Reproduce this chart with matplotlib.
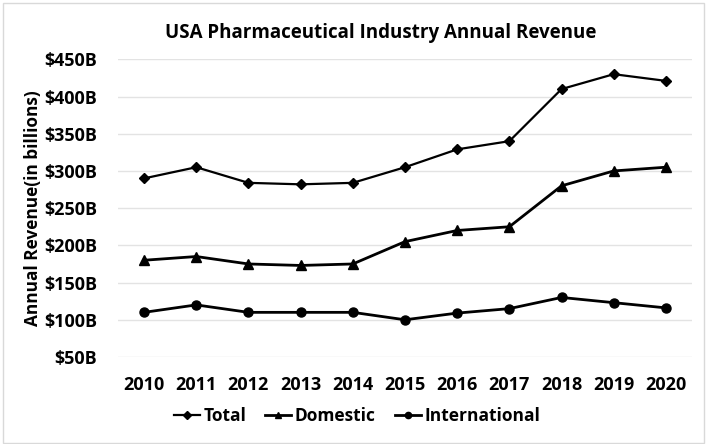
import matplotlib
matplotlib.use("Agg")
import matplotlib.pyplot as plt
from matplotlib.patches import Rectangle

years = ["2010", "2011", "2012", "2013", "2014", "2015", "2016", "2017", "2018", "2019", "2020"]
total = [290, 305, 284, 282, 284, 305, 329, 340, 410, 430, 421]
domestic = [180, 185, 175, 173, 175, 205, 220, 225, 280, 300, 305]
international = [110, 120, 110, 110, 110, 100, 109, 115, 130, 123, 116]
yticks = [50, 100, 150, 200, 250, 300, 350, 400, 450]
ytick_labels = ["$50B", "$100B", "$150B", "$200B", "$250B", "$300B", "$350B", "$400B", "$450B"]

plt.rcParams['font.family'] = ['Open Sans', 'DejaVu Sans']
plt.rcParams['font.weight'] = 'bold'

W, H = 706, 444
fig = plt.figure(figsize=(W / 100, H / 100), dpi=100)
ax = fig.add_axes([118 / W, 1 - 357 / H, (692 - 118) / W, (357 - 59.3) / H])

x = list(range(len(years)))
ax.plot(x, total, color='black', lw=1.6, marker='D', ms=5, label='Total')
ax.plot(x, domestic, color='black', lw=2.0, marker='^', ms=6.5, label='Domestic')
ax.plot(x, international, color='black', lw=2.0, marker='o', ms=6.5, label='International')

ax.set_xlim(-0.5, len(years) - 0.5)
ax.set_ylim(50, 450)
ax.set_yticks(yticks)
ax.set_yticklabels(ytick_labels)
ax.set_xticks(x)
ax.set_xticklabels(years)
ax.grid(axis='y', color='#e3e3e3', lw=1)
ax.set_axisbelow(True)
for s in ax.spines.values():
    s.set_visible(False)
ax.tick_params(length=0, labelsize=13)
for lab in ax.get_xticklabels() + ax.get_yticklabels():
    lab.set_fontweight('bold')
ax.tick_params(axis='x', pad=14)
ax.tick_params(axis='y', pad=15)

ax.set_ylabel('Annual Revenue(in billions)', fontsize=12.4, fontweight='bold')
ax.yaxis.set_label_coords((42 - 118) / (692 - 118), 0.5)

fig.text(381 / W, 1 - 33 / H, 'USA Pharmaceutical Industry Annual Revenue', ha='center', va='center',
         fontsize=13.5, fontweight='bold')

leg = fig.legend(loc='center', bbox_to_anchor=(357 / W, 1 - 416 / H), ncol=3, frameon=False,
                 prop={'weight': 'bold', 'size': 12.5}, handlelength=1.5, handletextpad=0.2, columnspacing=1.1)
for h in leg.legend_handles:
    h.set_markersize(4.5)

fig.patches.append(Rectangle((3 / W, 1 / H), (704 - 3) / W, (442 - 2) / H, transform=fig.transFigure,
                             fill=False, edgecolor='#d9d9d9', lw=1))

fig.savefig('out.png', dpi=100)
